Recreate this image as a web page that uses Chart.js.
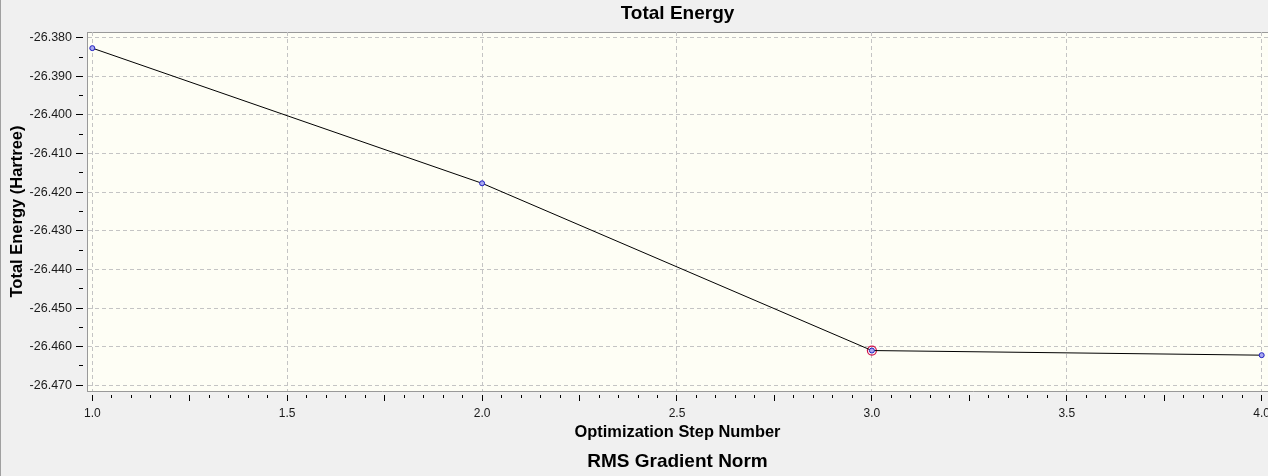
<!DOCTYPE html>
<html>
<head>
<meta charset="utf-8">
<script src="https://cdn.jsdelivr.net/npm/chart.js@4.4.1/dist/chart.umd.min.js"></script>
<style>
  html, body { margin: 0; padding: 0; background: #f0f0f0; overflow: hidden; }
  canvas { display: block; }
</style>
</head>
<body>
<canvas id="energyChart" width="1268" height="476"></canvas>
<script>
const steps = [1, 2, 3, 4];
const energies = [-26.3827, -26.4177, -26.4610, -26.4622];
const currentStep = 3;

const xTickLabels = ["1.0", "1.5", "2.0", "2.5", "3.0", "3.5", "4.0"];
const yTickLabels = ["-26.380", "-26.390", "-26.400", "-26.410", "-26.420",
                     "-26.430", "-26.440", "-26.450", "-26.460", "-26.470"];

const FONT = "'Liberation Sans', Arial, sans-serif";

// ticks: labelled ones from the arrays, minor ones in between (x: every 0.05, y: every 0.005)
function xTicks() {
  const out = [];
  const first = parseFloat(xTickLabels[0]);
  const n = (xTickLabels.length - 1) * 10;
  for (let i = 0; i <= n; i++) {
    const lvl = i % 10 === 0 ? 2 : (i % 5 === 0 ? 1 : 0);
    out.push({ value: first + i * 0.05, lvl: lvl, text: lvl === 2 ? xTickLabels[i / 10] : "" });
  }
  return out;
}
function yTicks() {
  const out = [];
  const first = parseFloat(yTickLabels[0]);
  const n = (yTickLabels.length - 1) * 2;
  for (let i = 0; i <= n; i++) {
    const lvl = i % 2 === 0 ? 2 : 0;
    out.push({ value: first - i * 0.005, lvl: lvl, text: lvl === 2 ? yTickLabels[i / 2] : "" });
  }
  return out;
}

const plotBackground = {
  id: "plotBackground",
  beforeDraw(chart) {
    const { ctx, chartArea: a } = chart;
    ctx.save();
    ctx.fillStyle = "#a0a0a0";
    ctx.fillRect(0, 0, 1, chart.height);
    ctx.fillStyle = "#fefef5";
    ctx.fillRect(a.left, a.top, a.right - a.left, a.bottom - a.top);
    ctx.fillStyle = "#999999";
    ctx.fillRect(a.left, a.top, a.right - a.left, 1);
    ctx.restore();
  }
};

const lvlOf = (c) => (c.tick && c.tick.lvl) || 0;
const curIndex = steps.indexOf(currentStep);

new Chart(document.getElementById("energyChart"), {
  type: "scatter",
  data: {
    datasets: [
      {
        data: steps.map((s, i) => ({ x: s, y: energies[i] })),
        showLine: true,
        borderColor: "#000000",
        borderWidth: 1,
        tension: 0,
        pointRadius: 2.5,
        pointBackgroundColor: "#a8a8f0",
        pointBorderColor: "#2020c0",
        pointBorderWidth: 1
      },
      {
        data: [{ x: steps[curIndex], y: energies[curIndex] }],
        showLine: false,
        pointRadius: 4.5,
        pointBackgroundColor: "rgba(0,0,0,0)",
        pointBorderColor: "#d0104a",
        pointBorderWidth: 1.2
      }
    ]
  },
  options: {
    responsive: false,
    devicePixelRatio: 1,
    animation: false,
    layout: { padding: 0, autoPadding: false },
    plugins: {
      legend: { display: false },
      tooltip: { enabled: false },
      title: {
        display: true,
        text: "Total Energy",
        fullSize: false,
        color: "#000",
        font: { family: FONT, size: 19, weight: "bold" },
        padding: { top: 2, bottom: 7.2 }
      },
      subtitle: {
        display: true,
        text: "RMS Gradient Norm",
        position: "bottom",
        fullSize: false,
        color: "#000",
        font: { family: FONT, size: 19, weight: "bold" },
        padding: { top: 0, bottom: 2.6 }
      }
    },
    scales: {
      x: {
        type: "linear",
        min: 0.9864,
        max: 4.0162,
        afterBuildTicks: (s) => { s.ticks = xTicks(); },
        afterFit: (s) => { s.height = 59.6; s.paddingLeft = 0; s.paddingRight = 0; },
        ticks: {
          autoSkip: false,
          maxRotation: 0,
          padding: 5.6,
          color: "#1a1a1a",
          font: { family: FONT, size: 12 },
          callback: function (v, i, t) { return t[i].text; }
        },
        grid: {
          tickLength: 10,
          color: (c) => lvlOf(c) === 2 ? "#c4c4c4" : "rgba(0,0,0,0)",
          tickColor: "#000",
          tickBorderDash: (c) => lvlOf(c) >= 1 ? [0, 3, 6, 30] : [0, 3, 3, 30]
        },
        border: { display: true, color: "#999999", width: 1, dash: [4, 3] },
        title: {
          display: true,
          text: "Optimization Step Number",
          color: "#000",
          font: { family: FONT, size: 16.4, weight: "bold" },
          padding: { top: 0, bottom: 8.3 }
        }
      },
      y: {
        type: "linear",
        min: -26.471476,
        max: -26.378524,
        afterBuildTicks: (s) => { s.ticks = yTicks(); },
        afterFit: (s) => { s.width = 87; s.paddingTop = 0; s.paddingBottom = 0; },
        ticks: {
          autoSkip: false,
          padding: 4,
          color: "#1a1a1a",
          font: { family: FONT, size: 12.5 },
          callback: function (v, i, t) { return t[i].text; }
        },
        grid: {
          tickLength: 11,
          color: (c) => lvlOf(c) === 2 ? "#c4c4c4" : "rgba(0,0,0,0)",
          tickColor: "#000",
          tickBorderDash: (c) => lvlOf(c) === 2 ? [7, 30] : [0, 3, 4, 30]
        },
        border: { display: true, color: "#999999", width: 1, dash: [4, 3] },
        title: {
          display: true,
          text: "Total Energy (Hartree)",
          color: "#000",
          font: { family: FONT, size: 16.5, weight: "bold" },
          padding: { top: 7.1, bottom: 0 }
        }
      }
    }
  },
  plugins: [plotBackground]
});
</script>
</body>
</html>
